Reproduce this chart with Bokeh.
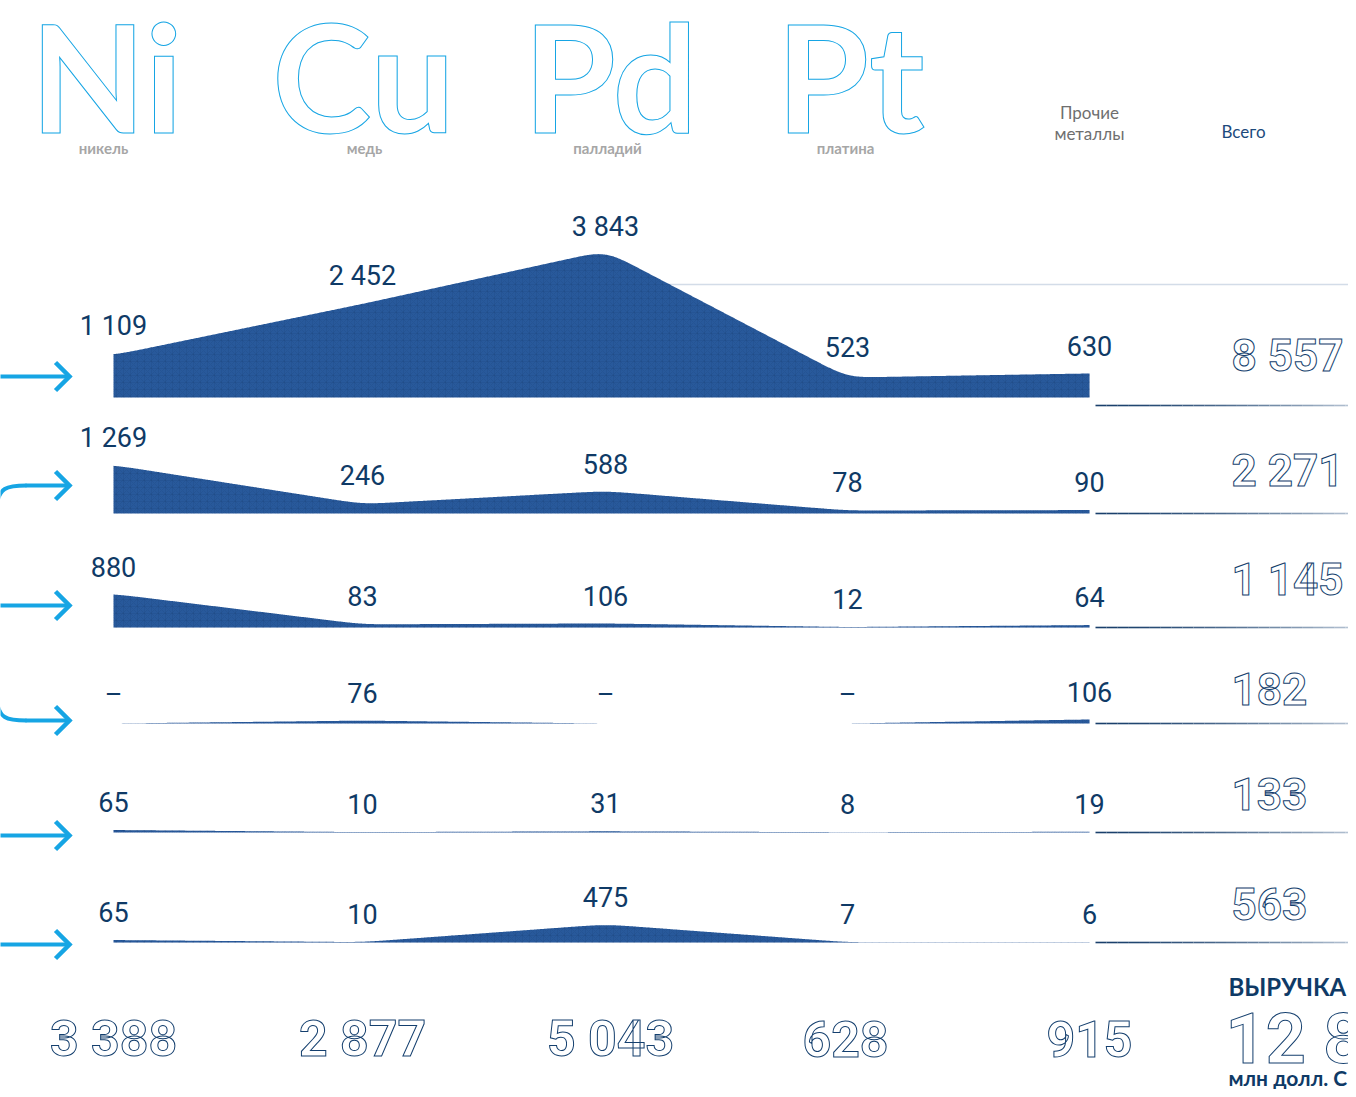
import numpy as np
from bokeh.plotting import figure
from bokeh.models import Range1d
from bokeh.embed import file_html
from bokeh.resources import INLINE
from bokeh.core.properties import value

# ---------------- data ----------------
symbols = ["Ni", "Cu", "Pd", "Pt"]
metal_names = ["никель", "медь", "палладий", "платина"]
other_label = ["Прочие", "металлы"]
total_label = "Всего"

row1 = [1109, 2452, 3843, 523, 630]
row2 = [1269, 246, 588, 78, 90]
row3 = [880, 83, 106, 12, 64]
row4 = [None, 76, None, None, 106]
row5 = [65, 10, 31, 8, 19]
row6 = [65, 10, 475, 7, 6]
rows = [row1, row2, row3, row4, row5, row6]
row_totals = [8557, 2271, 1145, 182, 133, 563]
col_totals = [3388, 2877, 5043, 628, 915]
grand_total = 12851
revenue_title = "ВЫРУЧКА"
revenue_unit = "млн долл. США"

# ---------------- layout ----------------
W, H = 1348, 1089
col_x = [113, 362, 605, 847, 1089]
sym_x = [106, 363, 610, 850]
baselines = [397, 513, 627, 723, 832, 942]
units_per_px = 26.2
arrow_y = [376, 485, 605, 720, 835, 944]
arrow_kind = ["s", "up", "s", "down", "s", "s"]

NAVY = "#0f3a66"
BAND = "#28599b"
CYAN = "#16a5e4"
OUTLINE = "#143f6e"


def fmt(v):
    if v is None:
        return "–"
    return f"{v:,}".replace(",", " ")


def smooth_profile(xk, yk, xs, sigma):
    lin = np.interp(xs, xk, yk)
    r = int(3 * sigma)
    k = np.exp(-0.5 * (np.arange(-r, r + 1) / sigma) ** 2)
    k /= k.sum()
    padded = np.concatenate([np.full(r, lin[0]), lin, np.full(r, lin[-1])])
    return np.convolve(padded, k, mode="valid")


p = figure(width=W, height=H, x_range=Range1d(0, W), y_range=Range1d(H, 0),
           output_backend="svg", toolbar_location=None, min_border=0,
           x_axis_location=None, y_axis_location=None)
p.grid.visible = False
p.outline_line_color = None
p.background_fill_color = "white"
p.border_fill_color = "white"


def outlined(x, y, text, color, size, font, align, style="bold"):
    p.text(x=x, y=y, text=text, text_font=value(font), text_font_style=style,
           text_font_size=size, text_align=align, text_baseline="middle",
           text_color="white", text_outline_color=color)


# ---------------- header ----------------
outlined(sym_x, [74] * 4, symbols, CYAN, "150px", "Lato", "center")
p.text(x=[103, 364, 607, 845], y=[147] * 4, text=metal_names, text_font=value("Lato"),
       text_font_style="bold", text_font_size="15px", text_align="center",
       text_baseline="middle", text_color="#a6a6a6")
p.text(x=[1089, 1089], y=[112, 133], text=other_label, text_font=value("Lato"),
       text_font_size="17px", text_align="center", text_baseline="middle",
       text_color="#6f6f6f")
p.text(x=[1243], y=[131], text=[total_label], text_font=value("Lato"),
       text_font_size="17px", text_align="center", text_baseline="middle",
       text_color="#1c4a7c")

# faint top rule of first row
p.segment(x0=[640], y0=[284], x1=[1356], y1=[284], line_color="#d3dce8", line_width=1.5)

# ---------------- rows ----------------
xs = np.arange(col_x[0], col_x[-1] + 0.5, 1.0)
for r, vals in enumerate(rows):
    base = baselines[r]
    hts = [0 if v is None else v / units_per_px for v in vals]
    h = smooth_profile(col_x, hts, xs, 13)
    p.varea(x=xs, y1=np.full_like(xs, base, dtype=float), y2=base - h, fill_color=BAND,
            hatch_pattern="criss_cross", hatch_color="#163c6c", hatch_alpha=0.14,
            hatch_scale=7, hatch_weight=1)
    hc = np.interp(col_x, xs, h)
    ly = [base - hh - 28 for hh in hc]
    p.text(x=col_x, y=ly, text=[fmt(v) for v in vals], text_font=value("Roboto"),
           text_font_size="27px", text_align="center", text_baseline="middle",
           text_color=NAVY)
    # gradient separator on the right
    sep_y = 405 if r == 0 else base
    n = 24
    gx = np.linspace(1095, 1356, n + 1)
    c0 = np.array([0x1a, 0x40, 0x6c])
    c1 = np.array([0xc0, 0xcc, 0xda])
    cols = ["#%02x%02x%02x" % tuple((c0 + (c1 - c0) * (i / n) ** 1.5).astype(int)) for i in range(n)]
    p.segment(x0=gx[:-1], y0=[sep_y] * n, x1=gx[1:], y1=[sep_y] * n, line_color=cols,
              line_width=1.6)
    # arrow on the left
    ay = arrow_y[r]
    if arrow_kind[r] == "s":
        p.segment(x0=[-10], y0=[ay], x1=[67], y1=[ay], line_color=CYAN, line_width=4)
    elif arrow_kind[r] == "up":
        p.bezier(x0=[-4], y0=[ay + 22], x1=[26], y1=[ay], cx0=[-2], cy0=[ay + 2],
                 cx1=[6], cy1=[ay], line_color=CYAN, line_width=4)
        p.segment(x0=[25], y0=[ay], x1=[67], y1=[ay], line_color=CYAN, line_width=4)
    else:
        p.bezier(x0=[-4], y0=[ay - 22], x1=[26], y1=[ay], cx0=[-2], cy0=[ay - 2],
                 cx1=[6], cy1=[ay], line_color=CYAN, line_width=4)
        p.segment(x0=[25], y0=[ay], x1=[67], y1=[ay], line_color=CYAN, line_width=4)
    p.line(x=[55, 69, 55], y=[ay - 14, ay, ay + 14], line_color=CYAN, line_width=4.5,
           line_join="miter")

# row totals (outlined)
outlined([1231] * 6, [355, 470, 579, 688, 793, 903], [fmt(v) for v in row_totals],
         OUTLINE, "44px", "Roboto", "left")

# column totals (outlined)
outlined([113, 362, 610, 845, 1089], [1038] * 5, [fmt(v) for v in col_totals],
         OUTLINE, "50px", "Roboto", "center")

# grand total
p.text(x=[1228], y=[986], text=[revenue_title], text_font=value("Lato"),
       text_font_style="bold", text_font_size="24px", text_align="left",
       text_baseline="middle", text_color=NAVY)
outlined([1225], [1038], [fmt(grand_total)], OUTLINE, "70px", "Roboto", "left")
p.text(x=[1228], y=[1077], text=[revenue_unit], text_font=value("Lato"),
       text_font_style="bold", text_font_size="21px", text_align="left",
       text_baseline="middle", text_color=NAVY)

open("out.html", "w").write(file_html(p, INLINE))
